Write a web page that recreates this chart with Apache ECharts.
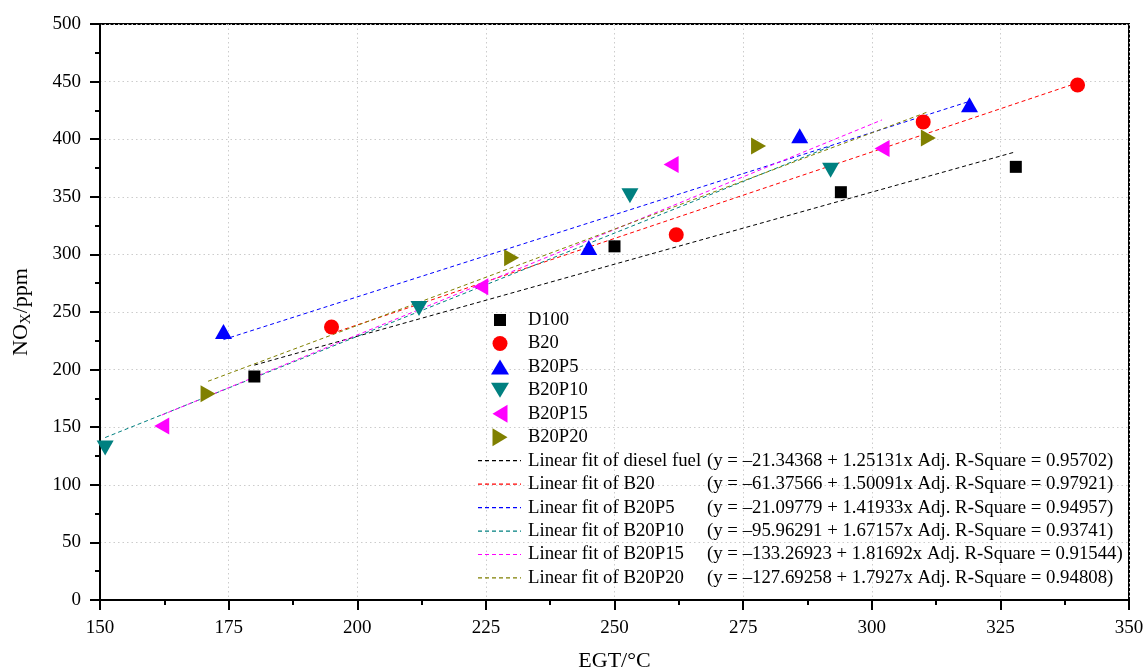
<!DOCTYPE html>
<html>
<head>
<meta charset="utf-8">
<script src="https://cdn.jsdelivr.net/npm/echarts@6/dist/echarts.min.js"></script>
<style>
html,body{margin:0;padding:0;background:#fff;}
#chart{width:1143px;height:670px;}
</style>
</head>
<body>
<div id="chart"></div>
<script>
// ---- data ----
const seriesNames = ['D100', 'B20', 'B20P5', 'B20P10', 'B20P15', 'B20P20'];
const egtD100   = [180, 250, 294, 328];
const noxD100   = [194, 307, 354, 376];
const egtB20    = [195, 262, 310, 340];
const noxB20    = [237, 317, 415, 447];
const egtB20P5  = [174, 245, 286, 319];
const noxB20P5  = [233, 306, 403, 430];
const egtB20P10 = [151, 212, 253, 292];
const noxB20P10 = [132, 253, 351, 373];
const egtB20P15 = [162, 224, 261, 302];
const noxB20P15 = [151, 272, 378, 392];
const egtB20P20 = [171, 230, 278, 311];
const noxB20P20 = [179, 297, 394, 401];

const fitNames = [
  'Linear fit of diesel fuel',
  'Linear fit of B20',
  'Linear fit of B20P5',
  'Linear fit of B20P10',
  'Linear fit of B20P15',
  'Linear fit of B20P20'
];
const fitEquations = [
  '(y = \u201321.34368 + 1.25131x Adj. R-Square = 0.95702)',
  '(y = \u201361.37566 + 1.50091x Adj. R-Square = 0.97921)',
  '(y = \u201321.09779 + 1.41933x Adj. R-Square = 0.94957)',
  '(y = \u201395.96291 + 1.67157x Adj. R-Square = 0.93741)',
  '(y = \u2013133.26923 + 1.81692x Adj. R-Square = 0.91544)',
  '(y = \u2013127.69258 + 1.7927x Adj. R-Square = 0.94808)'
];

const xTicks = { min: 150, max: 350, step: 25 };
const yTicks = { min: 0, max: 500, step: 50 };

// ---- styling ----
const FONT = "'Liberation Serif','Times New Roman',serif";
const colors = ['#000000', '#ff0000', '#0000ff', '#008080', '#ff00ff', '#808000'];
const symbols = ['rect', 'circle', 'triangle', 'triangle', 'triangle', 'triangle'];
const symbolSizes = [12, 15, [17, 15], [17, 15], [17, 15], [17, 15]];
const symbolRotates = [0, 0, 0, 180, 90, -90];
const legendIcons = [
  'rect',
  'circle',
  'path://M0,15 L8.5,0 L17,15 Z',
  'path://M0,0 L17,0 L8.5,15 Z',
  'path://M15,0 L15,17 L0,8.5 Z',
  'path://M0,0 L0,17 L15,8.5 Z'
];
const legendIconSizes = [[12, 12], [15, 15], [18, 15], [18, 15], [15, 18], [15, 18]];
const dashIcon = 'path://M0,0h4v1h-4zM7,0h4v1h-4zM14,0h4v1h-4zM21,0h4v1h-4zM28,0h4v1h-4zM35,0h4v1h-4zM42,0h1v1h-1z';

const xs = [egtD100, egtB20, egtB20P5, egtB20P10, egtB20P15, egtB20P20];
const ys = [noxD100, noxB20, noxB20P5, noxB20P10, noxB20P15, noxB20P20];

function linearFit(x, y) {
  const n = x.length;
  let mx = 0, my = 0;
  for (let i = 0; i < n; i++) { mx += x[i]; my += y[i]; }
  mx /= n; my /= n;
  let sxy = 0, sxx = 0;
  for (let i = 0; i < n; i++) { sxy += (x[i] - mx) * (y[i] - my); sxx += (x[i] - mx) * (x[i] - mx); }
  const b = sxy / sxx, a = my - b * mx;
  const x0 = Math.min.apply(null, x), x1 = Math.max.apply(null, x);
  return [[x0, a + b * x0], [x1, a + b * x1]];
}

const series = [];
seriesNames.forEach((nm, i) => {
  series.push({
    name: nm,
    type: 'scatter',
    z: 5,
    symbol: symbols[i],
    symbolSize: symbolSizes[i],
    symbolRotate: symbolRotates[i],
    itemStyle: { color: colors[i], opacity: 1 },
    data: xs[i].map((v, k) => [v, ys[i][k]])
  });
});
fitNames.forEach((nm, i) => {
  series.push({
    name: nm,
    type: 'line',
    z: 3,
    symbol: 'none',
    showSymbol: false,
    silent: true,
    lineStyle: { color: colors[i], width: 1, type: [4, 3] },
    itemStyle: { color: colors[i] },
    data: linearFit(xs[i], ys[i])
  });
});

const FIT_FS = 18.8;
const richText = {
  n: { fontFamily: FONT, fontSize: FIT_FS, color: '#000', lineHeight: 20, width: 179 },
  e: { fontFamily: FONT, fontSize: FIT_FS, color: '#000', lineHeight: 20 }
};

// symbol legend: one legend per marker so each icon gets its own size
const legends = [];
seriesNames.forEach((nm, i) => {
  legends.push({
    orient: 'vertical',
    left: 500 - legendIconSizes[i][0] / 2,
    top: 320 + i * 23.45 - 10,
    padding: 0,
    itemWidth: legendIconSizes[i][0],
    itemHeight: legendIconSizes[i][1],
    symbolKeepAspect: false,
    selectedMode: false,
    data: [{ name: nm, icon: legendIcons[i] }],
    textStyle: { fontFamily: FONT, fontSize: 18.5, color: '#000', lineHeight: 20, padding: [0, 0, 0, 23 - legendIconSizes[i][0] / 2] },
    formatter: '{name}'
  });
});
legends.push({
  orient: 'vertical',
  left: 478,
  top: 320 + 6 * 23.45 - 10,
  padding: 0,
  itemWidth: 43,
  itemHeight: 1.2,
  itemGap: 3.45,
  symbolKeepAspect: false,
  selectedMode: false,
  data: fitNames.map(n => ({ name: n, icon: dashIcon })),
  textStyle: { fontFamily: FONT, fontSize: FIT_FS, color: '#000', lineHeight: 20, padding: [0, 0, 0, 2], rich: richText },
  formatter: function (name) {
    const idx = fitNames.indexOf(name);
    return '{n|' + name + '}{e|' + fitEquations[idx] + '}';
  }
});

const chart = echarts.init(document.getElementById('chart'), null, { renderer: 'canvas' });
chart.setOption({
  animation: false,
  backgroundColor: '#fff',
  textStyle: { fontFamily: FONT },
  grid: { left: 100, right: 14, top: 24, bottom: 70, show: true, borderColor: '#000', borderWidth: 2, backgroundColor: 'transparent', containLabel: false, outerBoundsMode: 'none' },
  legend: legends,
  xAxis: {
    type: 'value',
    min: xTicks.min, max: xTicks.max, interval: xTicks.step,
    name: 'EGT/°C',
    nameLocation: 'middle',
    nameGap: 50,
    nameTextStyle: { fontFamily: FONT, fontSize: 22, color: '#000' },
    axisLine: { show: true, onZero: false, lineStyle: { color: '#000', width: 2 } },
    axisTick: { show: true, length: 10, lineStyle: { color: '#000', width: 2 } },
    minorTick: { show: true, splitNumber: 2, length: 5, lineStyle: { color: '#000', width: 2 } },
    axisLabel: { fontFamily: FONT, fontSize: 19, color: '#000', margin: 19 },
    splitLine: { show: true, lineStyle: { color: '#cccccc', width: 1, type: [1.5, 3] } }
  },
  yAxis: {
    type: 'value',
    min: yTicks.min, max: yTicks.max, interval: yTicks.step,
    name: '{a|NO}{b|X}{a|/ppm}',
    nameLocation: 'middle',
    nameGap: 66,
    nameTextStyle: {
      fontFamily: FONT, fontSize: 22, color: '#000',
      rich: {
        a: { fontFamily: FONT, fontSize: 22, color: '#000', lineHeight: 26, verticalAlign: 'middle' },
        b: { fontFamily: FONT, fontSize: 15, color: '#000', lineHeight: 26, verticalAlign: 'bottom', padding: [12, 0, 0, 0] }
      }
    },
    axisLine: { show: true, onZero: false, lineStyle: { color: '#000', width: 2 } },
    axisTick: { show: true, length: 10, lineStyle: { color: '#000', width: 2 } },
    minorTick: { show: true, splitNumber: 2, length: 5, lineStyle: { color: '#000', width: 2 } },
    axisLabel: { fontFamily: FONT, fontSize: 19, color: '#000', margin: 19 },
    splitLine: { show: true, lineStyle: { color: '#cccccc', width: 1, type: [1.5, 3] } }
  },
  series: series
});
</script>
</body>
</html>
